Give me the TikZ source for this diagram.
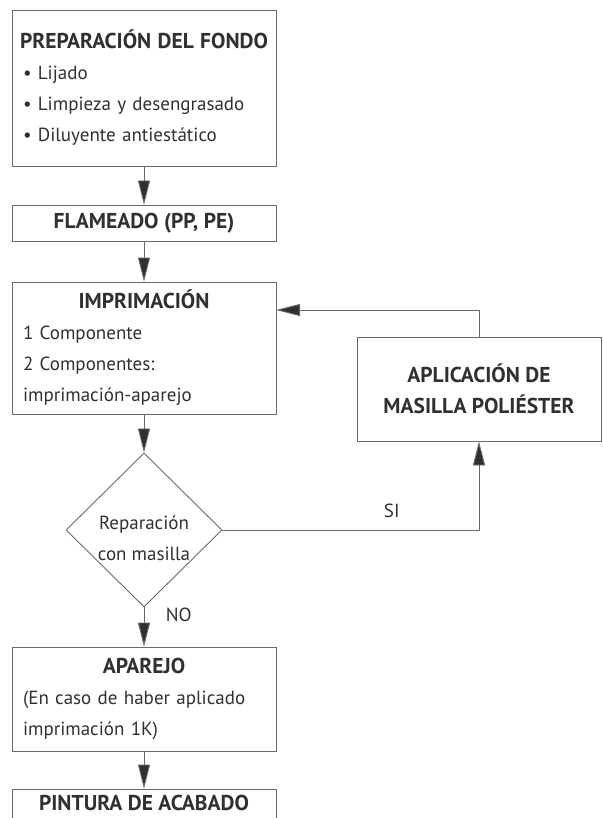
\documentclass[tikz,border=0pt]{standalone}
\usepackage{fontspec}
\setmainfont{PT Sans}
\usetikzlibrary{shapes.geometric,arrows.meta}
\definecolor{linegray}{HTML}{6A6A6A}
\definecolor{inkgray}{HTML}{303030}
\newcommand{\headfont}{\fontsize{21.5}{31}\selectfont\bfseries}
\newcommand{\bodyfont}{\fontsize{19}{31}\selectfont}
\tikzset{
  box/.style={draw=linegray, line width=0.9pt, rectangle, minimum width=264pt,
    text width=242pt, inner xsep=11pt, inner ysep=0pt, align=left, text=inkgray, font=\bodyfont},
  headbox/.style={draw=linegray, line width=0.9pt, rectangle, align=center,
    inner sep=0pt, text=inkgray, font=\headfont},
  question/.style={draw=linegray, line width=0.9pt, diamond, minimum width=156pt,
    minimum height=154pt, inner sep=0pt, align=center, text=inkgray, font=\bodyfont},
  arr/.style={draw=linegray, line width=0.9pt, -{Triangle[length=24pt,width=12pt,fill=inkgray]}},
  lab/.style={text=inkgray, font=\bodyfont}
}
\begin{document}
\begin{tikzpicture}[x=1pt,y=-1pt]
	\useasboundingbox (0,0) rectangle (602,818);
	% main column
	\node[box, minimum height=156pt] (prep) at (144,88)
		{\centerline{\headfont PREPARACIÓN DEL FONDO}
		 \textbullet\ Lijado\\ \textbullet\ Limpieza y desengrasado\\ \textbullet\ Diluyente antiestático};
	\node[headbox, minimum width=264pt, minimum height=36pt] (flam) at (144,223) {FLAMEADO (PP, PE)};
	\node[box, minimum height=132pt] (impr) at (144,348)
		{\centerline{\headfont IMPRIMACIÓN}
		 1 Componente\\ 2 Componentes:\\ imprimación-aparejo};
	\node[question] (rep) at (144,530) {\rule{0pt}{30pt}Reparación\\con masilla};
	\node[box, minimum height=104pt] (apar) at (144,699)
		{\centerline{\headfont APAREJO}
		 (En caso de haber aplicado\\ imprimación 1K)};
	\node[headbox, minimum width=264pt, minimum height=50pt, text depth=22pt] (pint) at (144,814) {PINTURA DE ACABADO};
	% loop on the right
	\node[headbox, minimum width=244pt, minimum height=104pt] (mas) at (479,389) {APLICACIÓN DE\\MASILLA POLIÉSTER};
	\coordinate (back) at (276,310);

	\draw[arr] (prep) -- (flam);
	\draw[arr] (flam) -- (impr);
	\draw[arr] (impr) -- (rep);
	\draw[arr] (rep) -- node[lab, pos=0.18, right=18pt]{NO} (apar);
	\draw[arr] (apar) -- (pint);
	\draw[arr] (rep.east) -| node[lab, pos=0.33, above=8pt]{SI} (mas.south);
	\draw[arr] (mas.north) |- (back);
\end{tikzpicture}
\end{document}
